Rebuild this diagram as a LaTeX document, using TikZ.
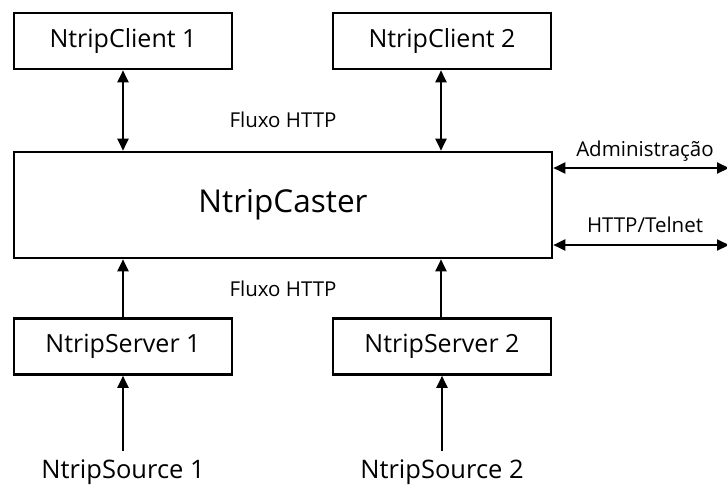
\documentclass[tikz,border=0pt]{standalone}
\usepackage{fontspec}
\setmainfont{Open Sans}
\usetikzlibrary{arrows.meta}
\begin{document}
\begin{tikzpicture}[x=1pt,y=-1pt,
  box/.style={draw, line width=2.6pt, minimum height=56pt, inner sep=0pt, font=\fontsize{25}{28}\selectfont},
  lbl/.style={inner sep=0pt, font=\fontsize{20.5}{23}\selectfont},
  src/.style={inner sep=0pt, font=\fontsize{25.5}{28}\selectfont},
  link/.style={line width=2pt, -{Triangle[length=12pt,width=11pt]}},
  both/.style={line width=2pt, {Triangle[length=12pt,width=11pt]}-{Triangle[length=12pt,width=11pt]}}]
\useasboundingbox (0,0) rectangle (727,488);
\fill[white] (0,0) rectangle (727,488);

% clients
\node[box, minimum width=218pt] (c1) at (123,41) {NtripClient 1};
\node[box, minimum width=218pt] (c2) at (442,41) {NtripClient 2};

% caster
\node[box, minimum width=538pt, minimum height=106pt, font=\fontsize{31.5}{36}\selectfont] (caster) at (283,205) {NtripCaster};

% servers
\node[box, minimum width=218pt] (s1) at (123,346.5) {NtripServer 1};
\node[box, minimum width=218pt] (s2) at (442,346.5) {NtripServer 2};

% sources
\node[src] (src1) at (123,472) {NtripSource 1};
\node[src] (src2) at (442,472) {NtripSource 2};

% labels
\node[lbl] (f1) at (283,120) {Fluxo HTTP};
\node[lbl] (f2) at (283,289) {Fluxo HTTP};
\node[lbl] (adm) at (645,151) {Administração};
\node[lbl] (tel) at (645,225) {HTTP/Telnet};

% external ends
\coordinate (e1) at (729,168);
\coordinate (e2) at (729,245);

% connectors
\draw[both] (c1.south -| 123,0) -- (123,0 |- caster.north);
\draw[both] (c2.south -| 441,0) -- (441,0 |- caster.north);
\draw[link] (s1.north -| 123,0) -- (123,0 |- caster.south);
\draw[link] (s2.north -| 441,0) -- (441,0 |- caster.south);
\draw[link] ([yshift=8pt]src1.north) -- (s1.south);
\draw[link] ([yshift=8pt]src2.north) -- (s2.south);
\draw[both] (caster.east |- e1) -- (e1);
\draw[both] (caster.east |- e2) -- (e2);
\end{tikzpicture}
\end{document}
